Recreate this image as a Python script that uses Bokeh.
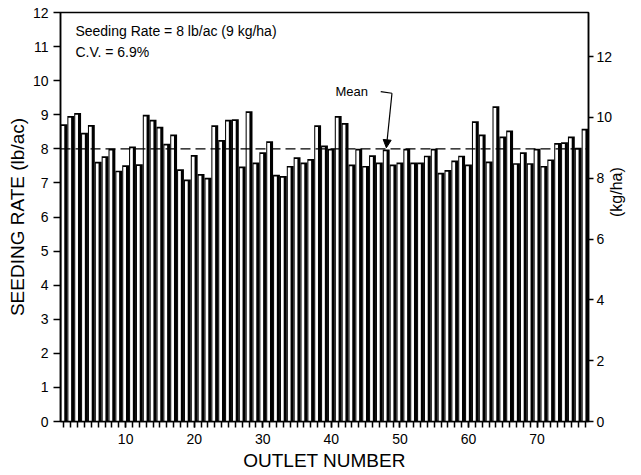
import math
from bokeh.plotting import figure
from bokeh.models import (Range1d, LinearAxis, FixedTicker, Label, Arrow,
                          NormalHead, ColumnDataSource)
from bokeh.embed import file_html
from bokeh.resources import INLINE

# ---- data -------------------------------------------------------------
outlets = list(range(1, 78))
rate_lb_ac = [8.72, 8.96, 9.05, 8.47, 8.70, 7.62, 7.78, 8.00, 7.36, 7.52,
              8.07, 7.55, 9.00, 8.85, 8.65, 8.15, 8.42, 7.40, 7.10, 7.82,
              7.26, 7.15, 8.69, 8.26, 8.85, 8.87, 7.48, 9.10, 7.60, 7.90,
              8.22, 7.24, 7.20, 7.50, 7.75, 7.60, 7.70, 8.69, 8.10, 8.00,
              8.96, 8.76, 7.54, 8.00, 7.50, 7.81, 7.60, 7.98, 7.54, 7.60,
              8.00, 7.60, 7.60, 7.80, 8.00, 7.30, 7.38, 7.66, 7.80, 7.54,
              8.81, 8.42, 7.63, 9.25, 8.36, 8.54, 7.58, 7.90, 7.58, 8.00,
              7.50, 7.69, 8.17, 8.19, 8.36, 8.03, 8.59]
mean_rate = 8.0
kg_per_lb = 1.12085
x_tick_labels = [10, 20, 30, 40, 50, 60, 70]
y_ticks = list(range(0, 13))
kg_ticks = [0, 2, 4, 6, 8, 10, 12]
note_lines = ["Seeding Rate = 8 lb/ac (9 kg/ha)", "C.V. = 6.9%"]

FONT = "Liberation Sans"

src = ColumnDataSource(dict(
    x=outlets,
    top=rate_lb_ac,
    xin=[o - 0.15 for o in outlets],
    topin=[v - 0.05 for v in rate_lb_ac],
))

p = figure(width=636, height=474,
           x_range=Range1d(0.5, 77.5), y_range=Range1d(0, 12),
           output_backend="svg", toolbar_location=None,
           min_border_left=60, min_border_right=44,
           min_border_top=12, min_border_bottom=53)
p.extra_y_ranges = {"kg": Range1d(0, 12 * kg_per_lb)}

p.xgrid.visible = False
p.ygrid.visible = False
p.outline_line_color = "black"
p.outline_line_width = 1.5
p.background_fill_color = "white"
p.border_fill_color = "white"

# bars: black body with a white inner stripe
p.vbar(x="x", top="top", width=1.0, bottom=0, source=src,
       fill_color="black", line_color=None)
p.vbar(x="xin", top="topin", width=0.4, bottom=0, source=src,
       fill_color="white", line_color=None)

# mean line
p.line(x=[0.5, 77.5], y=[mean_rate, mean_rate], line_color="black",
       line_width=1.4, line_dash="10 5")

# axes
def style_axis(ax):
    ax.axis_line_color = "black"
    ax.axis_line_width = 1.5
    ax.major_tick_line_color = "black"
    ax.minor_tick_line_color = "black"
    ax.major_tick_line_width = 1.5
    ax.minor_tick_line_width = 1.5
    ax.major_tick_in = 0
    ax.minor_tick_in = 0
    ax.major_label_text_font = FONT
    ax.major_label_text_font_size = "14px"
    ax.major_label_text_color = "black"
    ax.axis_label_text_font = FONT
    ax.axis_label_text_font_style = "normal"
    ax.axis_label_text_color = "black"

xa = p.xaxis[0]
style_axis(xa)
xa.ticker = FixedTicker(ticks=x_tick_labels, minor_ticks=outlets)
xa.major_tick_out = 6
xa.minor_tick_out = 6
xa.major_label_standoff = 6
xa.axis_label = "OUTLET NUMBER"
xa.axis_label_text_font_size = "19px"
xa.axis_label_standoff = 3

ya = p.yaxis[0]
style_axis(ya)
ya.ticker = FixedTicker(ticks=y_ticks)
ya.major_tick_out = 7
ya.minor_tick_out = 0
ya.major_label_standoff = 5
ya.axis_label = "SEEDING RATE (lb/ac)"
ya.axis_label_text_font_size = "19px"
ya.axis_label_standoff = 2

ra = LinearAxis(y_range_name="kg", ticker=FixedTicker(ticks=kg_ticks),
                axis_label="(kg/ha)")
style_axis(ra)
ra.major_tick_out = 5
ra.minor_tick_out = 0
ra.major_label_standoff = 3
ra.axis_label_text_font_size = "16px"
ra.axis_label_standoff = 1
ra.axis_label_orientation = math.pi / 2
p.add_layout(ra, "right")

# annotations
p.add_layout(Label(x=2.67, y=11.68, text=note_lines[0], text_baseline="top",
                   text_font=FONT, text_font_size="14px", text_color="black"))
p.add_layout(Label(x=2.67, y=11.09, text=note_lines[1], text_baseline="top",
                   text_font=FONT, text_font_size="14px", text_color="black"))
p.add_layout(Label(x=40.6, y=9.68, text="Mean", text_baseline="middle",
                   text_font=FONT, text_font_size="13px", text_color="black"))
p.line(x=[47.2, 48.84], y=[9.68, 9.63], line_color="black", line_width=1.2)
p.add_layout(Arrow(x_start=48.84, y_start=9.63, x_end=48.02, y_end=8.03,
                   line_color="black", line_width=1.2,
                   end=NormalHead(size=8, fill_color="black",
                                  line_color="black")))

open("out.html", "w").write(file_html(p, INLINE))
